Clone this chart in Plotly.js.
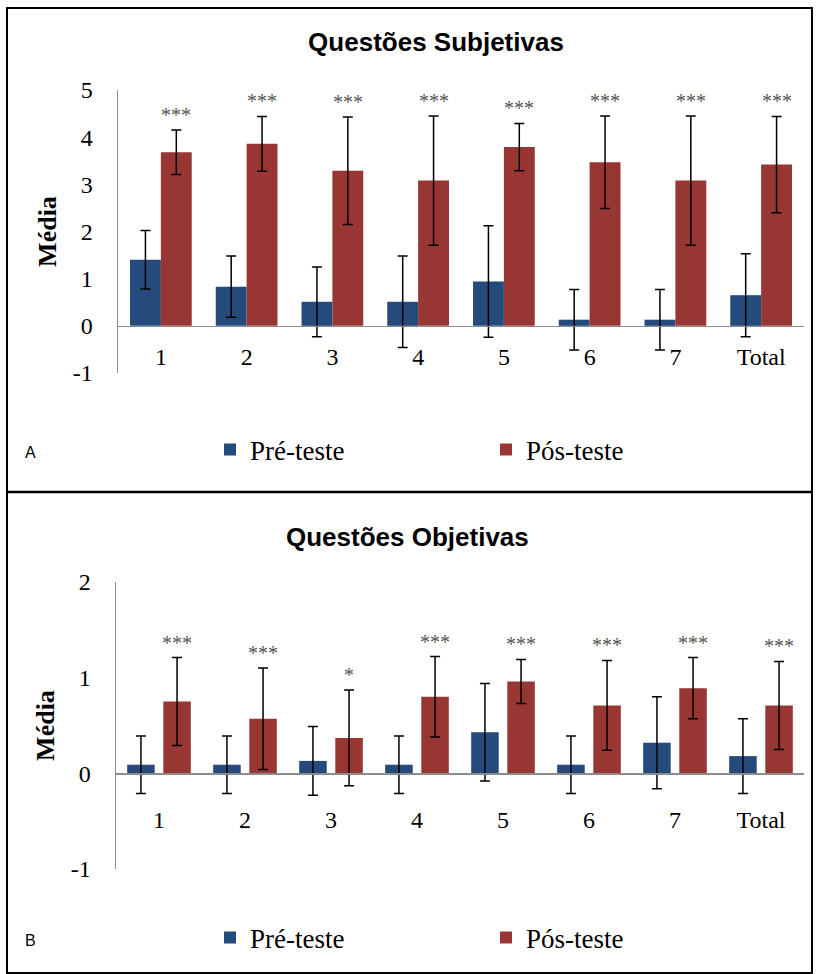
<!DOCTYPE html>
<html>
<head>
<meta charset="utf-8">
<script src="https://cdn.plot.ly/plotly-3.0.1.min.js"></script>
<style>html,body{margin:0;padding:0;background:#fff;}#chart{width:816px;height:974px;}</style>
</head>
<body>
<div id="chart"></div>
<script>
// ---- data ----
var categories = ['1', '2', '3', '4', '5', '6', '7', 'Total'];
var seriesNames = ['Pré-teste', 'Pós-teste'];

var subjPre   = [1.40, 0.83, 0.51, 0.51, 0.94, 0.13, 0.13, 0.65];
var subjPreSD = [0.62, 0.65, 0.74, 0.97, 1.18, 0.64, 0.64, 0.88];
var subjPos   = [3.68, 3.86, 3.29, 3.08, 3.79, 3.47, 3.08, 3.42];
var subjPosSD = [0.47, 0.58, 1.14, 1.37, 0.50, 0.98, 1.37, 1.02];
var subjSig   = ['***', '***', '***', '***', '***', '***', '***', '***'];

var objPre    = [0.09, 0.09, 0.13, 0.09, 0.43, 0.09, 0.32, 0.18];
var objPreSD  = [0.30, 0.30, 0.36, 0.30, 0.51, 0.30, 0.48, 0.39];
var objPos    = [0.75, 0.57, 0.37, 0.80, 0.96, 0.71, 0.89, 0.71];
var objPosSD  = [0.46, 0.53, 0.50, 0.42, 0.23, 0.47, 0.32, 0.46];
var objSig    = ['***', '***', '*', '***', '***', '***', '***', '***'];

var yTickValsTop = [-1, 0, 1, 2, 3, 4, 5];
var yTickTextTop = ['-1', '0', '1', '2', '3', '4', '5'];
var yTickValsBot = [-1, 0, 1, 2];
var yTickTextBot = ['-1', '0', '1', '2'];

var titleTop = 'Questões Subjetivas';
var titleBottom = 'Questões Objetivas';
var yTitle = 'Média';

// ---- styling ----
var W = 816, H = 974;
var BLUE = '#254A7C', RED = '#983634', AXIS = '#8c8c8c';
var SERIF = 'Liberation Serif, Times New Roman, serif';
var SANS = 'Liberation Sans, Arial, sans-serif';
function px(x) { return x / W; }
function py(y) { return 1 - y / H; }

var topY = [py(373), py(90)];
var botY = [py(869), py(582)];
var topXAxisPos = topY[0] + (1 / 6) * (topY[1] - topY[0]);
var botXAxisPos = botY[0] + (1 / 3) * (botY[1] - botY[0]);

function errBar(arr) {
  return {type: 'data', array: arr, visible: true, color: '#000', thickness: 1.5, width: 5};
}

var traces = [
  {type: 'bar', name: seriesNames[0], x: categories, y: subjPre, error_y: errBar(subjPreSD),
   marker: {color: BLUE}, width: 0.36, offset: -0.36, xaxis: 'x', yaxis: 'y', legend: 'legend'},
  {type: 'bar', name: seriesNames[1], x: categories, y: subjPos, error_y: errBar(subjPosSD),
   marker: {color: RED}, width: 0.36, offset: 0, xaxis: 'x', yaxis: 'y', legend: 'legend'},
  {type: 'bar', name: seriesNames[0], x: categories, y: objPre, error_y: errBar(objPreSD),
   marker: {color: BLUE}, width: 0.32, offset: -0.37, xaxis: 'x2', yaxis: 'y2', legend: 'legend2'},
  {type: 'bar', name: seriesNames[1], x: categories, y: objPos, error_y: errBar(objPosSD),
   marker: {color: RED}, width: 0.32, offset: 0.05, xaxis: 'x2', yaxis: 'y2', legend: 'legend2'}
];

var annotations = [];
categories.forEach(function (c, i) {
  annotations.push({xref: 'x', yref: 'y', x: i + 0.18, y: subjPos[i] + subjPosSD[i],
    yanchor: 'bottom', xanchor: 'center', yshift: 2, showarrow: false, text: subjSig[i],
    font: {family: SERIF, size: 20, color: '#555'}});
  annotations.push({xref: 'x2', yref: 'y2', x: i + 0.21, y: objPos[i] + objPosSD[i],
    yanchor: 'bottom', xanchor: 'center', yshift: 2, showarrow: false, text: objSig[i],
    font: {family: SERIF, size: 20, color: '#555'}});
});
annotations.push({xref: 'paper', yref: 'paper', x: px(407), y: py(537), xanchor: 'center', yanchor: 'middle',
  showarrow: false, text: '<b>' + titleBottom + '</b>', font: {family: SANS, size: 26, color: '#000'}});
annotations.push({xref: 'paper', yref: 'paper', x: px(30), y: py(452), xanchor: 'center', yanchor: 'middle',
  showarrow: false, text: 'A', font: {family: SANS, size: 16, color: '#000'}});
annotations.push({xref: 'paper', yref: 'paper', x: px(30), y: py(940), xanchor: 'center', yanchor: 'middle',
  showarrow: false, text: 'B', font: {family: SANS, size: 16, color: '#000'}});

function xAx(pos, domain, tl) {
  return {type: 'category', domain: domain, anchor: 'free', position: pos,
    showline: true, linecolor: AXIS, linewidth: 1.5, showgrid: false, zeroline: false,
    ticks: 'outside', ticklen: tl, tickcolor: 'rgba(0,0,0,0)', automargin: false,
    tickfont: {family: SERIF, size: 24, color: '#000'}, fixedrange: true};
}
function yAx(domain, range, anchor, tv, tt) {
  return {domain: domain, range: range, autorange: false, anchor: anchor,
    tickmode: 'array', tickvals: tv, ticktext: tt, automargin: false,
    showline: true, linecolor: AXIS, linewidth: 1.5, showgrid: false, zeroline: false,
    ticks: 'outside', ticklen: 19, tickcolor: 'rgba(0,0,0,0)',
    tickfont: {family: SERIF, size: 24, color: '#000'},
    title: {text: '<b>' + yTitle + '</b>', font: {family: SERIF, size: 26, color: '#000'}, standoff: 8}};
}
function leg(yc) {
  return {orientation: 'h', x: px(210), xanchor: 'left', y: py(yc), yanchor: 'middle',
    entrywidth: 231, entrywidthmode: 'pixels', font: {family: SERIF, size: 27, color: '#000'},
    bgcolor: 'rgba(0,0,0,0)', traceorder: 'normal'};
}

var layout = {
  width: W, height: H,
  margin: {l: 0, r: 0, t: 0, b: 0, pad: 0, autoexpand: false},
  paper_bgcolor: '#fff', plot_bgcolor: '#fff',
  barmode: 'overlay',
  showlegend: true,
  title: {text: '<b>' + titleTop + '</b>', font: {family: SANS, size: 26, color: '#000'},
    xref: 'paper', yref: 'paper', x: px(436), xanchor: 'center', y: py(42), yanchor: 'middle'},
  xaxis: xAx(topXAxisPos, [px(118), px(804)], 9),
  yaxis: yAx(topY, [-1, 5], 'x', yTickValsTop, yTickTextTop),
  xaxis2: xAx(botXAxisPos, [px(116), px(804)], 24),
  yaxis2: yAx(botY, [-1, 2], 'x2', yTickValsBot, yTickTextBot),
  legend: leg(450),
  legend2: leg(938),
  annotations: annotations,
  shapes: [
    {type: 'rect', xref: 'paper', yref: 'paper', x0: px(7), x1: px(812), y0: py(973), y1: py(8),
     line: {color: '#000', width: 2}, fillcolor: 'rgba(0,0,0,0)', layer: 'below'},
    {type: 'line', xref: 'paper', yref: 'paper', x0: px(7), x1: px(812), y0: py(492), y1: py(492),
     line: {color: '#000', width: 2.5}}
  ]
};

Plotly.newPlot('chart', traces, layout, {displayModeBar: false, staticPlot: true});
</script>
</body>
</html>
